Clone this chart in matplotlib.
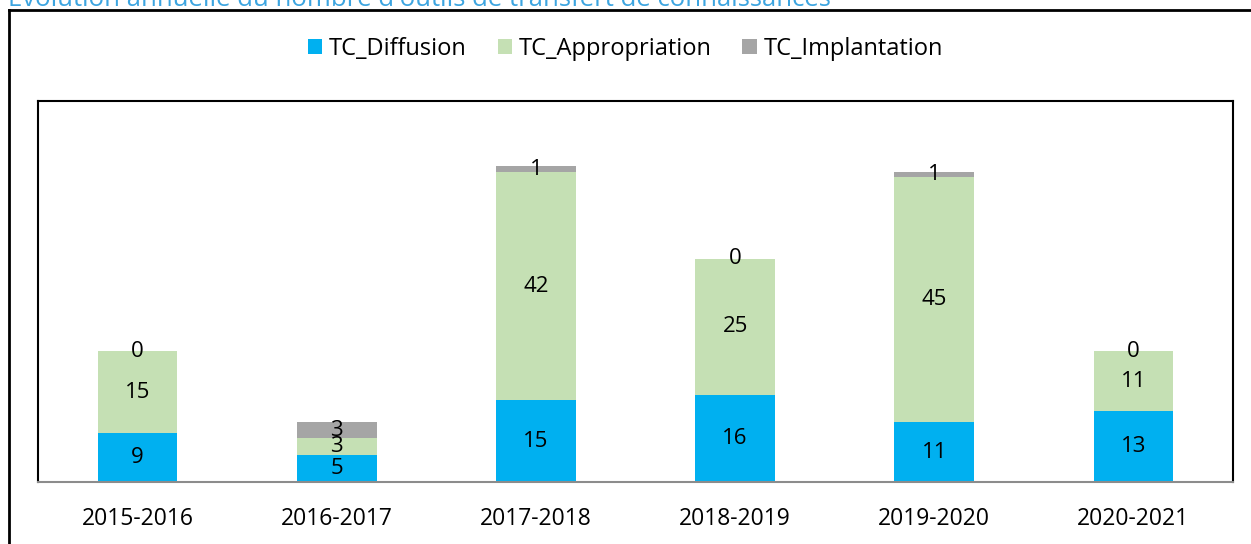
import numpy as np
import matplotlib
matplotlib.use('Agg')
from matplotlib import pyplot as plt
from matplotlib.lines import Line2D

years = ['2015-2016', '2016-2017', '2017-2018', '2018-2019', '2019-2020', '2020-2021']
diffusion = [9, 5, 15, 16, 11, 13]
appropriation = [15, 3, 42, 25, 45, 11]
implantation = [0, 3, 1, 0, 1, 0]

names = ['TC_Diffusion', 'TC_Appropriation', 'TC_Implantation']
colors = ['#00B0F0', '#C5E0B4', '#A5A5A5']
title = "Evolution annuelle du nombre d'outils de transfert de connaissances"

plt.rcParams['font.family'] = ['Open Sans', 'DejaVu Sans']

fig = plt.figure(figsize=(12.51, 5.44), dpi=100)
ax = fig.add_axes([38/1251, 1-482/544, (1233-38)/1251, (482-101)/544])

x = np.arange(len(years))
bottom = np.zeros(len(years))
for vals, name, col in zip([diffusion, appropriation, implantation], names, colors):
    bars = ax.bar(x, vals, 0.4, bottom=bottom, color=col, label=name)
    ax.bar_label(bars, labels=[str(v) for v in vals], label_type='center', fontsize=16)
    bottom += np.array(vals)

ax.set_xlim(-0.5, len(years) - 0.5)
ax.set_ylim(0, 70)
ax.set_yticks([])
ax.set_xticks(x)
ax.set_xticklabels(years, fontsize=16.5)
ax.tick_params(axis='x', length=0, pad=18)
for s in ['top', 'left', 'right']:
    ax.spines[s].set_color('black')
    ax.spines[s].set_linewidth(1.5)
ax.spines['bottom'].set_color('#8c8c8c')
ax.spines['bottom'].set_linewidth(1.5)

fig.legend(loc='center', bbox_to_anchor=(0.5, 1-49/544), ncol=3, frameon=False,
           fontsize=17, handlelength=0.6, handleheight=0.6, columnspacing=1.3, handletextpad=0.3)

# outer frame (cut off at the right and bottom)
fig.add_artist(Line2D([9/1251, 9/1251], [0, 1-10/544], color='black', lw=2, transform=fig.transFigure))
fig.add_artist(Line2D([9/1251, 1], [1-10/544, 1-10/544], color='black', lw=2, transform=fig.transFigure))

# title, partly cut off at the top as in the original
fig.text(8/1251, 1-6/544, title, color='#3DA5E0', fontsize=18.5, va='baseline', ha='left')

fig.savefig('out.png', dpi=100)
